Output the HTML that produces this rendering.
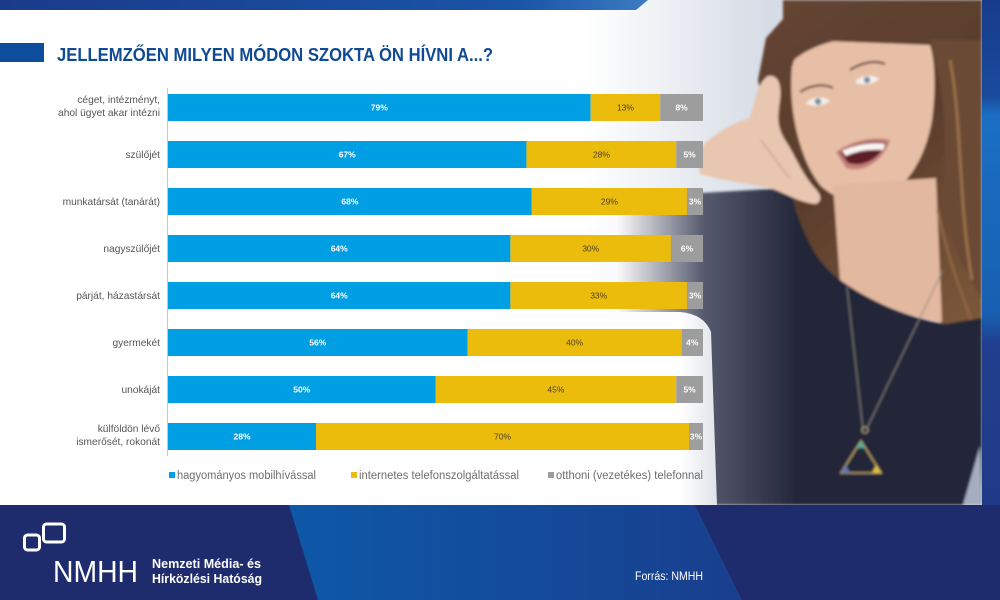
<!DOCTYPE html>
<html><head><meta charset="utf-8">
<style>html,body{margin:0;padding:0;background:#fff;}svg{display:block;}</style>
</head>
<body>
<svg width="1000" height="600" viewBox="0 0 1000 600" xmlns="http://www.w3.org/2000/svg" font-family="'Liberation Sans', sans-serif">
<defs>
  <linearGradient id="topg" gradientUnits="userSpaceOnUse" x1="0" y1="0" x2="650" y2="0">
    <stop offset="0" stop-color="#1b3a8a"/><stop offset="0.8" stop-color="#1a55a6"/><stop offset="1" stop-color="#3d7cc4"/>
  </linearGradient>
  <linearGradient id="bgph" gradientUnits="userSpaceOnUse" x1="585" y1="0" x2="770" y2="0">
    <stop offset="0" stop-color="#ffffff"/><stop offset="1" stop-color="#d6dce6"/>
  </linearGradient>
  <linearGradient id="body" gradientUnits="userSpaceOnUse" x1="615" y1="0" x2="800" y2="0">
    <stop offset="0" stop-color="#ffffff"/><stop offset="0.48" stop-color="#565a6e"/><stop offset="1" stop-color="#222538"/>
  </linearGradient>
  <linearGradient id="panel" gradientUnits="userSpaceOnUse" x1="680" y1="0" x2="718" y2="0">
    <stop offset="0" stop-color="#ffffff"/><stop offset="1" stop-color="#dfe2e9"/>
  </linearGradient>
  <linearGradient id="hair" gradientUnits="userSpaceOnUse" x1="760" y1="0" x2="982" y2="300">
    <stop offset="0" stop-color="#654532"/><stop offset="0.5" stop-color="#5a3d2c"/><stop offset="1" stop-color="#7a5638"/>
  </linearGradient>
  <linearGradient id="rcol" x1="0" y1="0" x2="0" y2="1">
    <stop offset="0" stop-color="#173b8c"/><stop offset="0.19" stop-color="#1a4a9c"/><stop offset="0.23" stop-color="#1a6fc4"/><stop offset="0.62" stop-color="#1760b2"/><stop offset="0.68" stop-color="#213f8e"/><stop offset="1" stop-color="#213a88"/>
  </linearGradient>
  <linearGradient id="band" gradientUnits="userSpaceOnUse" x1="290" y1="0" x2="740" y2="0">
    <stop offset="0" stop-color="#0e58a8"/><stop offset="1" stop-color="#193f8e"/>
  </linearGradient>
  <filter id="soft" x="-5%" y="-5%" width="110%" height="110%"><feGaussianBlur stdDeviation="1.2"/></filter>
</defs>

<!-- background -->
<rect x="0" y="0" width="1000" height="600" fill="#ffffff"/>

<!-- photo background -->
<rect x="585" y="0" width="397" height="505" fill="url(#bgph)"/>

<!-- top stripe -->
<polygon points="0,0 648,0 636,10 0,10" fill="url(#topg)"/>

<!-- photo elements -->
<g filter="url(#soft)">
  <!-- hair -->
  <path d="M800 0 H982 V342 C965 340 950 332 940 322 L880 300 L835 328 L815 292 L795 250 L784 200 L770 140 L758 80 L766 38 Z" fill="url(#hair)"/>
  <!-- face -->
  <path d="M792 67 C788 110 800 160 820 185 C835 200 860 206 882 198 C906 188 925 160 932 120 C936 90 935 60 930 45 L800 40 Z" fill="#e7bfa6"/>
  <!-- neck -->
  <path d="M833 185 L936 178 L942 322 C910 318 870 302 840 280 Z" fill="#e2b89f"/>
  <!-- fringe -->
  <path d="M783 75 C795 47 840 36 890 33 C915 33 932 40 947 58 L947 0 L783 0 Z" fill="url(#hair)"/>
  <path d="M930 40 C945 90 950 150 940 200 L960 260 L982 300 L982 40 Z" fill="#6b4a34"/>
  <path d="M950 60 C962 120 958 200 972 280" stroke="#9a7048" stroke-width="3" fill="none"/>
  <path d="M938 210 C945 250 960 290 975 330" stroke="#8c6442" stroke-width="3" fill="none"/>
  <path d="M795 210 C805 250 815 285 830 315" stroke="#7a5638" stroke-width="3" fill="none"/>
  <!-- eyes -->
  <path d="M806 103 C812 96 824 96 830 101 C823 106 812 107 806 103 Z" fill="#f4f1ee"/>
  <circle cx="818" cy="101.5" r="3.2" fill="#6f8aa0"/>
  <path d="M855 82 C861 75 873 74 879 79 C872 85 861 86 855 82 Z" fill="#f4f1ee"/>
  <circle cx="867" cy="80" r="3.2" fill="#6f8aa0"/>
  <path d="M800 92 C812 84 825 84 833 88" stroke="#6a4a3a" stroke-width="2.2" fill="none"/>
  <path d="M850 70 C862 62 876 60 885 64" stroke="#6a4a3a" stroke-width="2.2" fill="none"/>
  <!-- mouth -->
  <path d="M836 152 C852 140 875 136 890 140 C884 160 864 174 846 168 Z" fill="#c47f78"/>
  <path d="M840 152 C856 143 874 140 886 143 C880 158 864 168 848 163 Z" fill="#5e1f26"/>
  <path d="M842 151 C857 144 873 142 885 144 L883 150 C869 149 856 151 846 156 Z" fill="#fbf7f4"/>
  <!-- shirt / dark body -->
  <path d="M615 195 L700 193 L790 188 C800 230 815 262 840 280 C870 302 910 318 945 324 L982 318 L982 505 L615 505 Z" fill="url(#body)"/>
  <!-- hand -->
  <path d="M697 152 C710 135 735 122 750 118 C755 100 758 82 768 76 C778 74 782 85 780 100 C778 115 776 125 785 140 C795 155 800 170 812 185 C820 193 824 200 816 204 C800 203 785 193 770 188 C745 183 720 180 700 174 Z" fill="#e9c6b0"/>
  <path d="M760 140 C770 150 778 165 790 178" stroke="#d2a48c" stroke-width="1.5" fill="none"/>
  <!-- arm edge lower right -->
  <polygon points="980,446 963,505 982,505" fill="#a5adc0"/>
  <!-- necklace -->
  <path d="M847 287 L863 430 M943 270 L867 428" stroke="#8a8580" stroke-width="1" fill="none"/>
  <circle cx="865" cy="430" r="3" fill="none" stroke="#b0a080" stroke-width="1.2"/>
  <polygon points="861,441 841,473 881,473" fill="none" stroke="#b9a266" stroke-width="1.6"/>
  <polygon points="841,473 846,465 850,473" fill="#5a74b0"/>
  <polygon points="881,473 876,465 872,473" fill="#e0c040"/>
  <polygon points="861,441 857,448 865,448" fill="#40b0a0"/>
</g>

<!-- white chart panel lower part -->
<path d="M0 312 H680 Q704 314 711 332 L717 505 H0 Z" fill="url(#panel)"/>
<rect x="0" y="312" width="680" height="193" fill="#ffffff"/>

<!-- right column -->
<rect x="982" y="0" width="18" height="505" fill="url(#rcol)"/>

<!-- footer -->
<rect x="0" y="505" width="1000" height="95" fill="#1e2b6c"/>
<polygon points="289,505 695,505 742,600 318,600" fill="url(#band)"/>

<!-- title -->
<rect x="0" y="43" width="44" height="19" fill="#0d4d9c"/>
<text x="57" y="61" font-size="18" font-weight="bold" fill="#0f4a93" textLength="436" lengthAdjust="spacingAndGlyphs">JELLEMZŐEN MILYEN MÓDON SZOKTA ÖN HÍVNI A...?</text>

<!-- axis -->
<line x1="167.5" y1="88" x2="167.5" y2="456" stroke="#c8c8c8" stroke-width="1"/>

<!-- category labels -->
<g font-size="10.2" fill="#555555" text-anchor="end">
  <text x="160" y="103">céget, intézményt,</text>
  <text x="160" y="116">ahol ügyet akar intézni</text>
  <text x="160" y="158">szülőjét</text>
  <text x="160" y="205">munkatársát (tanárát)</text>
  <text x="160" y="252">nagyszülőjét</text>
  <text x="160" y="299">párját, házastársát</text>
  <text x="160" y="346">gyermekét</text>
  <text x="160" y="393">unokáját</text>
  <text x="160" y="432">külföldön lévő</text>
  <text x="160" y="445">ismerősét, rokonát</text>
</g>

<!-- bars -->
<g>
  <rect x="168" y="94" width="422.65" height="27" fill="#009fe3"/>
  <rect x="590.65" y="94" width="69.55" height="27" fill="#ebbc0b"/>
  <rect x="660.2" y="94" width="42.8" height="27" fill="#9d9d9d"/>
  <rect x="168" y="141" width="358.45" height="27" fill="#009fe3"/>
  <rect x="526.45" y="141" width="149.8" height="27" fill="#ebbc0b"/>
  <rect x="676.25" y="141" width="26.75" height="27" fill="#9d9d9d"/>
  <rect x="168" y="188" width="363.8" height="27" fill="#009fe3"/>
  <rect x="531.8" y="188" width="155.15" height="27" fill="#ebbc0b"/>
  <rect x="686.95" y="188" width="16.05" height="27" fill="#9d9d9d"/>
  <rect x="168" y="235" width="342.4" height="27" fill="#009fe3"/>
  <rect x="510.4" y="235" width="160.5" height="27" fill="#ebbc0b"/>
  <rect x="670.9" y="235" width="32.1" height="27" fill="#9d9d9d"/>
  <rect x="168" y="282" width="342.4" height="27" fill="#009fe3"/>
  <rect x="510.4" y="282" width="176.55" height="27" fill="#ebbc0b"/>
  <rect x="686.95" y="282" width="16.05" height="27" fill="#9d9d9d"/>
  <rect x="168" y="329" width="299.6" height="27" fill="#009fe3"/>
  <rect x="467.6" y="329" width="214" height="27" fill="#ebbc0b"/>
  <rect x="681.6" y="329" width="21.4" height="27" fill="#9d9d9d"/>
  <rect x="168" y="376" width="267.5" height="27" fill="#009fe3"/>
  <rect x="435.5" y="376" width="240.75" height="27" fill="#ebbc0b"/>
  <rect x="676.25" y="376" width="26.75" height="27" fill="#9d9d9d"/>
  <rect x="168" y="423" width="148" height="27" fill="#009fe3"/>
  <rect x="316" y="423" width="373" height="27" fill="#ebbc0b"/>
  <rect x="689" y="423" width="14" height="27" fill="#9d9d9d"/>
</g>

<!-- value labels -->
<g font-size="8.5" text-anchor="middle">
  <g fill="#ffffff" font-weight="bold">
    <text x="379.3" y="110.5">79%</text>
    <text x="347.2" y="157.5">67%</text>
    <text x="349.9" y="204.5">68%</text>
    <text x="339.2" y="251.5">64%</text>
    <text x="339.2" y="298.5">64%</text>
    <text x="317.8" y="345.5">56%</text>
    <text x="301.8" y="392.5">50%</text>
    <text x="242" y="439.5">28%</text>
    <text x="681.6" y="110.5">8%</text>
    <text x="689.6" y="157.5">5%</text>
    <text x="695" y="204.5">3%</text>
    <text x="687" y="251.5">6%</text>
    <text x="695" y="298.5">3%</text>
    <text x="692.3" y="345.5">4%</text>
    <text x="689.6" y="392.5">5%</text>
    <text x="696" y="439.5">3%</text>
  </g>
  <g fill="#4a3f22">
    <text x="625.4" y="110.5">13%</text>
    <text x="601.4" y="157.5">28%</text>
    <text x="609.4" y="204.5">29%</text>
    <text x="590.7" y="251.5">30%</text>
    <text x="598.7" y="298.5">33%</text>
    <text x="574.6" y="345.5">40%</text>
    <text x="555.9" y="392.5">45%</text>
    <text x="502.5" y="439.5">70%</text>
  </g>
</g>

<!-- legend -->
<rect x="169" y="472" width="6" height="6" fill="#009fe3"/>
<rect x="351" y="472" width="6" height="6" fill="#ebbc0b"/>
<rect x="548" y="472" width="6" height="6" fill="#9d9d9d"/>
<g font-size="11.5" fill="#6e6e6e">
  <text x="177" y="479" textLength="139" lengthAdjust="spacingAndGlyphs">hagyományos mobilhívással</text>
  <text x="359" y="479" textLength="160" lengthAdjust="spacingAndGlyphs">internetes telefonszolgáltatással</text>
  <text x="556" y="479" textLength="147" lengthAdjust="spacingAndGlyphs">otthoni (vezetékes) telefonnal</text>
</g>

<!-- footer logo -->
<rect x="24.5" y="535" width="15" height="15" rx="3" fill="none" stroke="#ffffff" stroke-width="3"/>
<rect x="43.5" y="524" width="21" height="18" rx="3" fill="none" stroke="#ffffff" stroke-width="3"/>
<text x="53" y="582" font-size="31" fill="#ffffff" textLength="85" lengthAdjust="spacingAndGlyphs">NMHH</text>
<text x="152" y="568" font-size="12.5" font-weight="bold" fill="#ffffff" textLength="109" lengthAdjust="spacingAndGlyphs">Nemzeti Média- és</text>
<text x="152" y="583" font-size="12.5" font-weight="bold" fill="#ffffff" textLength="110" lengthAdjust="spacingAndGlyphs">Hírközlési Hatóság</text>
<text x="635" y="580" font-size="11.5" fill="#ffffff" textLength="68" lengthAdjust="spacingAndGlyphs">Forrás: NMHH</text>
</svg>
</body></html>
